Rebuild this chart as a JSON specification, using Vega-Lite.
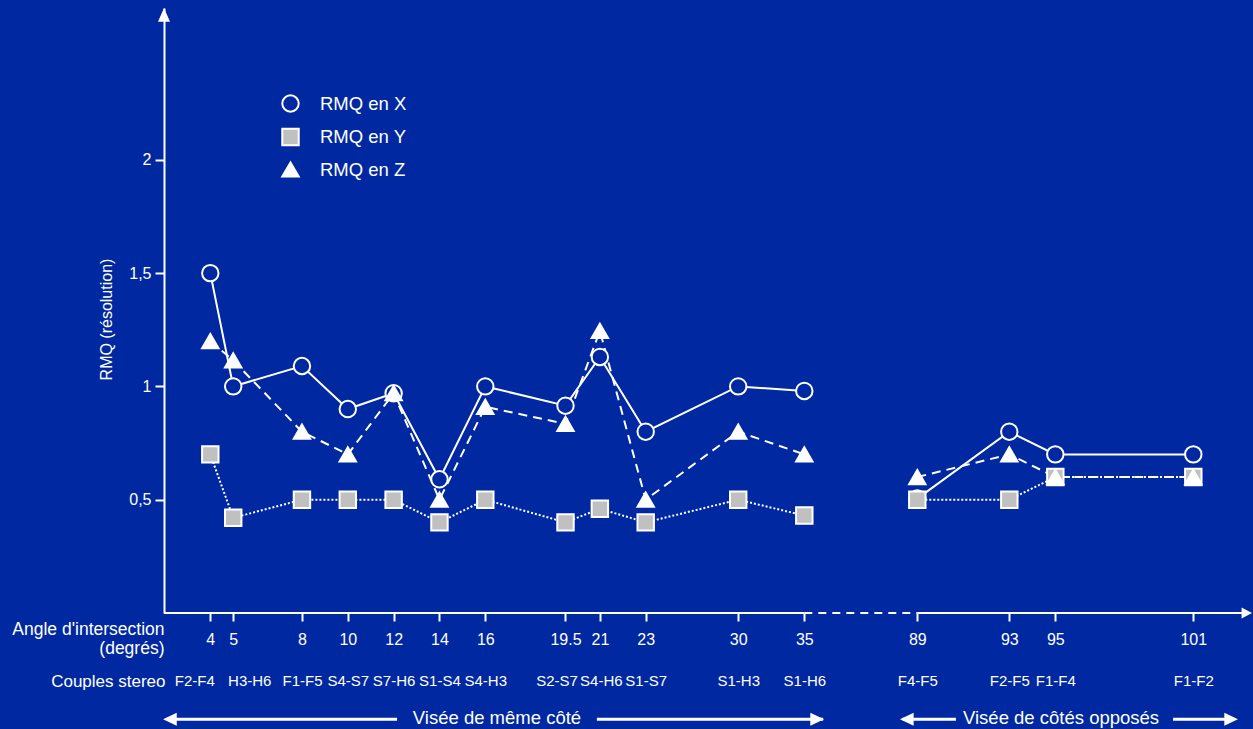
{
  "$schema": "https://vega.github.io/schema/vega-lite/v6.json",
  "width": 1088,
  "height": 605,
  "autosize": {"type": "none"},
  "padding": {"left": 164, "top": 8, "right": 1, "bottom": 116},
  "background": "#0028a0",
  "config": {
    "view": {"stroke": null},
    "font": "Liberation Sans",
    "axis": {"grid": false}
  },
  "datasets": {
    "rmq": [
      {"angle": 4, "couple": "F2-F4", "side": "meme", "serie": "X", "rmq": 1.5},
      {"angle": 5, "couple": "H3-H6", "side": "meme", "serie": "X", "rmq": 1.0},
      {"angle": 8, "couple": "F1-F5", "side": "meme", "serie": "X", "rmq": 1.09},
      {"angle": 10, "couple": "S4-S7", "side": "meme", "serie": "X", "rmq": 0.9},
      {"angle": 12, "couple": "S7-H6", "side": "meme", "serie": "X", "rmq": 0.97},
      {"angle": 14, "couple": "S1-S4", "side": "meme", "serie": "X", "rmq": 0.59},
      {"angle": 16, "couple": "S4-H3", "side": "meme", "serie": "X", "rmq": 1.0},
      {"angle": 19.5, "couple": "S2-S7", "side": "meme", "serie": "X", "rmq": 0.915},
      {"angle": 21, "couple": "S4-H6", "side": "meme", "serie": "X", "rmq": 1.13},
      {"angle": 23, "couple": "S1-S7", "side": "meme", "serie": "X", "rmq": 0.8},
      {"angle": 30, "couple": "S1-H3", "side": "meme", "serie": "X", "rmq": 1.0},
      {"angle": 35, "couple": "S1-H6", "side": "meme", "serie": "X", "rmq": 0.98},
      {"angle": 89, "couple": "F4-F5", "side": "oppose", "serie": "X", "rmq": 0.505},
      {"angle": 93, "couple": "F2-F5", "side": "oppose", "serie": "X", "rmq": 0.8},
      {"angle": 95, "couple": "F1-F4", "side": "oppose", "serie": "X", "rmq": 0.7},
      {"angle": 101, "couple": "F1-F2", "side": "oppose", "serie": "X", "rmq": 0.7},
      {"angle": 4, "couple": "F2-F4", "side": "meme", "serie": "Y", "rmq": 0.7},
      {"angle": 5, "couple": "H3-H6", "side": "meme", "serie": "Y", "rmq": 0.42},
      {"angle": 8, "couple": "F1-F5", "side": "meme", "serie": "Y", "rmq": 0.5},
      {"angle": 10, "couple": "S4-S7", "side": "meme", "serie": "Y", "rmq": 0.5},
      {"angle": 12, "couple": "S7-H6", "side": "meme", "serie": "Y", "rmq": 0.5},
      {"angle": 14, "couple": "S1-S4", "side": "meme", "serie": "Y", "rmq": 0.4},
      {"angle": 16, "couple": "S4-H3", "side": "meme", "serie": "Y", "rmq": 0.5},
      {"angle": 19.5, "couple": "S2-S7", "side": "meme", "serie": "Y", "rmq": 0.4},
      {"angle": 21, "couple": "S4-H6", "side": "meme", "serie": "Y", "rmq": 0.46},
      {"angle": 23, "couple": "S1-S7", "side": "meme", "serie": "Y", "rmq": 0.4},
      {"angle": 30, "couple": "S1-H3", "side": "meme", "serie": "Y", "rmq": 0.5},
      {"angle": 35, "couple": "S1-H6", "side": "meme", "serie": "Y", "rmq": 0.43},
      {"angle": 89, "couple": "F4-F5", "side": "oppose", "serie": "Y", "rmq": 0.5},
      {"angle": 93, "couple": "F2-F5", "side": "oppose", "serie": "Y", "rmq": 0.5},
      {"angle": 95, "couple": "F1-F4", "side": "oppose", "serie": "Y", "rmq": 0.6},
      {"angle": 101, "couple": "F1-F2", "side": "oppose", "serie": "Y", "rmq": 0.6},
      {"angle": 4, "couple": "F2-F4", "side": "meme", "serie": "Z", "rmq": 1.2},
      {"angle": 5, "couple": "H3-H6", "side": "meme", "serie": "Z", "rmq": 1.115},
      {"angle": 8, "couple": "F1-F5", "side": "meme", "serie": "Z", "rmq": 0.8},
      {"angle": 10, "couple": "S4-S7", "side": "meme", "serie": "Z", "rmq": 0.7},
      {"angle": 12, "couple": "S7-H6", "side": "meme", "serie": "Z", "rmq": 0.97},
      {"angle": 14, "couple": "S1-S4", "side": "meme", "serie": "Z", "rmq": 0.5},
      {"angle": 16, "couple": "S4-H3", "side": "meme", "serie": "Z", "rmq": 0.91},
      {"angle": 19.5, "couple": "S2-S7", "side": "meme", "serie": "Z", "rmq": 0.835},
      {"angle": 21, "couple": "S4-H6", "side": "meme", "serie": "Z", "rmq": 1.245},
      {"angle": 23, "couple": "S1-S7", "side": "meme", "serie": "Z", "rmq": 0.5},
      {"angle": 30, "couple": "S1-H3", "side": "meme", "serie": "Z", "rmq": 0.8},
      {"angle": 35, "couple": "S1-H6", "side": "meme", "serie": "Z", "rmq": 0.7},
      {"angle": 89, "couple": "F4-F5", "side": "oppose", "serie": "Z", "rmq": 0.6},
      {"angle": 93, "couple": "F2-F5", "side": "oppose", "serie": "Z", "rmq": 0.7},
      {"angle": 95, "couple": "F1-F4", "side": "oppose", "serie": "Z", "rmq": 0.6},
      {"angle": 101, "couple": "F1-F2", "side": "oppose", "serie": "Z", "rmq": 0.6}
    ]
  },
  "data": {"name": "rmq"},
  "resolve": {"axis": {"x": "independent"}},
  "layer": [
    {
      "data": {"values": [{}]},
      "mark": {"type": "rule", "color": "white", "strokeWidth": 2},
      "encoding": {
        "x": {"datum": 1.98, "type": "quantitative", "axis": null, "scale": {"type": "linear", "domain": [1.98, 4, 23, 35, 89, 101, 103.55], "range": [0, 46.3, 481.7, 640.3, 753.3, 1029.3, 1088], "nice": false, "zero": false}},
        "x2": {"datum": 35},
        "y": {"datum": 0, "type": "quantitative", "scale": {"domain": [0, 2.67], "nice": false, "zero": false}}
      }
    },
    {
      "data": {"values": [{}]},
      "mark": {"type": "rule", "color": "white", "strokeWidth": 2, "strokeDash": [8, 6]},
      "encoding": {
        "x": {"datum": 35, "type": "quantitative", "axis": null},
        "x2": {"datum": 89},
        "y": {"datum": 0, "type": "quantitative"}
      }
    },
    {
      "data": {"values": [{}]},
      "mark": {"type": "rule", "color": "white", "strokeWidth": 2},
      "encoding": {
        "x": {"datum": 89, "type": "quantitative", "axis": null},
        "x2": {"datum": 103.2},
        "y": {"datum": 0, "type": "quantitative"}
      }
    },
    {
      "data": {"values": [{}]},
      "mark": {"type": "point", "shape": "M0,0L-1.9,-1L-1.9,1Z", "filled": true, "color": "white", "opacity": 1, "size": 121},
      "encoding": {
        "x": {"datum": 103.55, "type": "quantitative", "axis": null},
        "y": {"datum": 0, "type": "quantitative"}
      }
    },
    {
      "data": {"values": [{}]},
      "mark": {"type": "point", "shape": "M0,0L-1,2.3L1,2.3Z", "filled": true, "color": "white", "opacity": 1, "size": 144},
      "encoding": {
        "x": {"datum": 1.98, "type": "quantitative", "axis": null},
        "y": {"datum": 2.67, "type": "quantitative"}
      }
    },
    {
      "data": {"values": [{}]},
      "mark": {"type": "rule", "color": "white", "strokeWidth": 3},
      "encoding": {
        "x": {"datum": 2.1, "type": "quantitative", "axis": null},
        "x2": {"datum": 12.15},
        "y": {"datum": -0.469, "type": "quantitative"}
      }
    },
    {
      "data": {"values": [{}]},
      "mark": {"type": "rule", "color": "white", "strokeWidth": 3},
      "encoding": {
        "x": {"datum": 20.87, "type": "quantitative", "axis": null},
        "x2": {"datum": 44.0},
        "y": {"datum": -0.469, "type": "quantitative"}
      }
    },
    {
      "data": {"values": [{}]},
      "mark": {"type": "rule", "color": "white", "strokeWidth": 3},
      "encoding": {
        "x": {"datum": 82, "type": "quantitative", "axis": null},
        "x2": {"datum": 90.68},
        "y": {"datum": -0.469, "type": "quantitative"}
      }
    },
    {
      "data": {"values": [{}]},
      "mark": {"type": "rule", "color": "white", "strokeWidth": 3},
      "encoding": {
        "x": {"datum": 100.12, "type": "quantitative", "axis": null},
        "x2": {"datum": 102.6},
        "y": {"datum": -0.469, "type": "quantitative"}
      }
    },
    {
      "data": {"values": [{}]},
      "mark": {"type": "point", "shape": "M0,0L2.1,-1L2.1,1Z", "filled": true, "color": "white", "opacity": 1, "size": 169},
      "encoding": {
        "x": {"datum": 1.94, "type": "quantitative", "axis": null},
        "y": {"datum": -0.469, "type": "quantitative"}
      }
    },
    {
      "data": {"values": [{}]},
      "mark": {"type": "point", "shape": "M0,0L2.1,-1L2.1,1Z", "filled": true, "color": "white", "opacity": 1, "size": 169},
      "encoding": {
        "x": {"datum": 80.73, "type": "quantitative", "axis": null},
        "y": {"datum": -0.469, "type": "quantitative"}
      }
    },
    {
      "data": {"values": [{}]},
      "mark": {"type": "point", "shape": "M0,0L-2.1,-1L-2.1,1Z", "filled": true, "color": "white", "opacity": 1, "size": 169},
      "encoding": {
        "x": {"datum": 44.41, "type": "quantitative", "axis": null},
        "y": {"datum": -0.469, "type": "quantitative"}
      }
    },
    {
      "data": {"values": [{}]},
      "mark": {"type": "point", "shape": "M0,0L-2.1,-1L-2.1,1Z", "filled": true, "color": "white", "opacity": 1, "size": 169},
      "encoding": {
        "x": {"datum": 102.94, "type": "quantitative", "axis": null},
        "y": {"datum": -0.469, "type": "quantitative"}
      }
    },
    {
      "data": {"values": [{}]},
      "mark": {"type": "text", "text": "Visée de même côté", "color": "white", "font": "Liberation Sans", "fontSize": 18.5, "align": "center", "baseline": "alphabetic"},
      "encoding": {
        "x": {"datum": 16.51, "type": "quantitative", "axis": null},
        "y": {"datum": -0.4885, "type": "quantitative"}
      }
    },
    {
      "data": {"values": [{}]},
      "mark": {"type": "text", "text": "Visée de côtés opposés", "color": "white", "font": "Liberation Sans", "fontSize": 18.5, "align": "center", "baseline": "alphabetic"},
      "encoding": {
        "x": {"datum": 95.25, "type": "quantitative", "axis": null},
        "y": {"datum": -0.4885, "type": "quantitative"}
      }
    },
    {
      "transform": [{"filter": "datum.serie == 'X'"}],
      "mark": {"type": "line", "stroke": "white", "strokeWidth": 2},
      "encoding": {
        "x": {
          "field": "angle", "type": "quantitative",
          "axis": {
            "orient": "bottom",
            "values": [4, 5, 8, 10, 12, 14, 16, 19.5, 21, 23, 30, 35, 89, 93, 95, 101],
            "labelExpr": "({'4':'F2-F4','5':'H3-H6','8':'F1-F5','10':'S4-S7','12':'S7-H6','14':'S1-S4','16':'S4-H3','19.5':'S2-S7','21':'S4-H6','23':'S1-S7','30':'S1-H3','35':'S1-H6','89':'F4-F5','93':'F2-F5','95':'F1-F4','101':'F1-F2'})[datum.value]",
            "domain": false,
            "ticks": false,
            "tickSize": 0,
            "labelPadding": 60,
            "labelBaseline": "top",
            "labelOffset": {"condition": [{"test": "datum.value == 4", "value": -16}, {"test": "datum.value == 5", "value": 16}, {"test": "datum.value == 19.5", "value": -9}, {"test": "datum.value == 21", "value": 1}], "value": 0},
            "labelFont": "Liberation Sans",
            "labelFontSize": 15,
            "labelColor": "white",
            "labelOverlap": false,
            "labelFlush": false,
            "labelBound": false,
            "title": "Couples stereo",
            "titleFont": "Liberation Sans",
            "titleFontSize": 17,
            "titleFontWeight": "normal",
            "titleColor": "white",
            "titleAlign": "right",
            "titleAnchor": "start",
            "titleBaseline": "top",
            "titleX": 1,
            "titleY": 60
          }
        },
        "y": {"field": "rmq", "type": "quantitative"},
        "detail": {"field": "side"}
      }
    },
    {
      "transform": [{"filter": "datum.serie == 'Y'"}],
      "mark": {"type": "line", "stroke": "white", "strokeWidth": 2, "strokeDash": [2, 2]},
      "encoding": {
        "x": {"field": "angle", "type": "quantitative", "axis": null},
        "y": {"field": "rmq", "type": "quantitative"},
        "detail": {"field": "side"}
      }
    },
    {
      "transform": [{"filter": "datum.serie == 'Z'"}],
      "mark": {"type": "line", "stroke": "white", "strokeWidth": 2, "strokeDash": [9, 6]},
      "encoding": {
        "x": {"field": "angle", "type": "quantitative", "axis": null},
        "y": {"field": "rmq", "type": "quantitative"},
        "detail": {"field": "side"}
      }
    },
    {
      "mark": {"type": "point", "filled": true, "stroke": "white", "strokeWidth": 2, "size": 270, "opacity": 1},
      "encoding": {
        "x": {
          "field": "angle", "type": "quantitative",
          "axis": {
            "orient": "bottom",
            "values": [4, 5, 8, 10, 12, 14, 16, 19.5, 21, 23, 30, 35, 89, 93, 95, 101],
            "labelExpr": "format(datum.value, '~g')",
            "domain": false,
            "ticks": true,
            "tickSize": 8,
            "tickWidth": 2,
            "tickColor": "white",
            "labelPadding": 10,
            "labelBaseline": "top",
            "labelFont": "Liberation Sans",
            "labelFontSize": 16,
            "labelColor": "white",
            "labelOverlap": false,
            "labelFlush": false,
            "labelBound": false,
            "title": ["Angle d'intersection", "(degrés)"],
            "titleFont": "Liberation Sans",
            "titleFontSize": 17.5,
            "titleFontWeight": "normal",
            "titleColor": "white",
            "titleAlign": "right",
            "titleAnchor": "start",
            "titleBaseline": "top",
            "titleLineHeight": 19,
            "titleX": 0,
            "titleY": 7
          }
        },
        "y": {
          "field": "rmq", "type": "quantitative",
          "axis": {
            "values": [0.5, 1, 1.5, 2],
            "labelExpr": "replace(format(datum.value, '~g'), '.', ',')",
            "domain": true,
            "domainColor": "white",
            "domainWidth": 2,
            "tickColor": "white",
            "tickWidth": 2,
            "tickSize": 9,
            "labelColor": "white",
            "labelFont": "Liberation Sans",
            "labelFontSize": 16,
            "labelPadding": 4,
            "title": "RMQ (résolution)",
            "titleFont": "Liberation Sans",
            "titleFontSize": 16,
            "titleFontWeight": "normal",
            "titleColor": "white",
            "titleAngle": -90,
            "titleAlign": "center",
            "titleBaseline": "middle",
            "titleX": -58,
            "titleY": 311
          }
        },
        "shape": {
          "field": "serie", "type": "nominal",
          "scale": {"domain": ["X", "Y", "Z"], "range": ["circle", "square", "triangle-up"]},
          "legend": {
            "orient": "none", "legendX": 117, "legendY": 86, "title": null,
            "labelExpr": "'RMQ en ' + datum.label",
            "labelColor": "white", "labelFont": "Liberation Sans", "labelFontSize": 18.5,
            "symbolStrokeColor": "white", "symbolStrokeWidth": 2, "symbolSize": 270,
            "rowPadding": 8.5, "labelOffset": 20, "padding": 0,
            "encoding": {"symbols": {"stroke": {"value": "white"}, "strokeWidth": {"value": 2}}}
          }
        },
        "fill": {
          "field": "serie", "type": "nominal",
          "scale": {"domain": ["X", "Y", "Z"], "range": ["#0028a0", "#c0c0c0", "#ffffff"]},
          "legend": {
            "orient": "none", "legendX": 117, "legendY": 86, "title": null,
            "labelExpr": "'RMQ en ' + datum.label",
            "labelColor": "white", "labelFont": "Liberation Sans", "labelFontSize": 18.5,
            "symbolStrokeColor": "white", "symbolStrokeWidth": 2, "symbolSize": 270,
            "rowPadding": 8.5, "labelOffset": 20, "padding": 0,
            "encoding": {"symbols": {"stroke": {"value": "white"}, "strokeWidth": {"value": 2}}}
          }
        }
      }
    }
  ]
}
